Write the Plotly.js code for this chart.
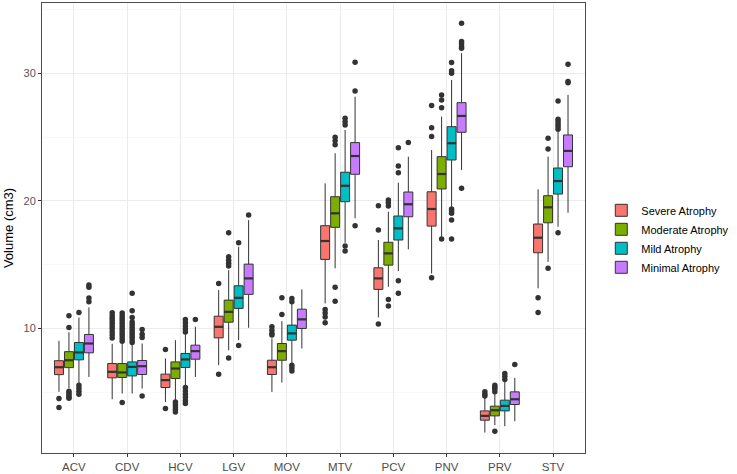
<!DOCTYPE html>
<html>
<head>
<meta charset="utf-8">
<script src="https://cdn.plot.ly/plotly-3.0.1.min.js"></script>
<style>html,body{margin:0;padding:0;background:#fff;}#chart{width:737px;height:474px;}</style>
</head>
<body>
<div id="chart"></div>
<script>
const categories = ['ACV','CDV','HCV','LGV','MOV','MTV','PCV','PNV','PRV','STV'];
const groups = ['Severe Atrophy','Moderate Atrophy','Mild Atrophy','Minimal Atrophy'];
const colors = ['#F8766D','#7CAE00','#00BFC4','#C77CFF'];

// Severe Atrophy
const severeQ1     = [6.38, 6.13, 5.37, 9.26, 6.39, 15.41, 13.06, 18.02, 2.81, 15.93];
const severeMedian = [6.96, 6.60, 5.95, 10.13, 6.96, 16.85, 13.92, 19.36, 3.15, 17.11];
const severeQ3     = [7.47, 7.25, 6.42, 10.96, 7.51, 18.05, 14.75, 20.71, 3.54, 18.18];
const severeLow    = [5.03, 4.45, 4.24, 7.12, 5.03, 11.96, 10.86, 14.30, 1.84, 13.14];
const severeHigh   = [9.03, 8.80, 7.65, 13.00, 9.22, 21.37, 16.93, 23.98, 4.55, 20.90];
const severeOut = [
  [4.51, 3.80],
  [9.25, 9.50, 9.75, 10.0, 10.2, 10.4, 10.6, 10.8, 11.0, 11.22],
  [8.35, 3.73],
  [13.53, 6.42],
  [10.13, 9.85, 9.60, 9.48],
  [11.49, 11.2, 10.9, 10.44],
  [19.62, 17.71, 10.34],
  [27.46, 25.73, 25.03, 13.97],
  [4.70, 4.85, 5.03],
  [12.40, 11.25]
];

// Moderate Atrophy
const moderateQ1     = [6.93, 6.16, 6.08, 10.49, 7.51, 17.92, 14.96, 20.93, 3.15, 18.28];
const moderateMedian = [7.51, 6.55, 6.86, 11.30, 8.22, 19.02, 15.88, 22.10, 3.59, 19.49];
const moderateQ3     = [8.18, 7.25, 7.38, 12.22, 8.82, 20.32, 16.75, 23.46, 3.91, 20.40];
const moderateLow    = [5.32, 4.90, 4.38, 8.30, 5.76, 14.71, 13.26, 17.18, 2.42, 15.22];
const moderateHigh   = [9.70, 8.80, 9.08, 14.57, 10.57, 23.73, 19.15, 26.60, 4.90, 23.46];
const moderateOut = [
  [10.99, 10.08, 5.08, 4.93, 4.77, 4.60, 4.53],
  [4.20, 9.0, 9.2, 9.4, 9.6, 9.8, 10.0, 10.2, 10.4, 10.6, 10.8, 11.0, 11.2],
  [4.24, 4.05, 3.85, 3.65, 3.46],
  [17.50, 15.62, 15.35, 15.10, 14.89, 7.69],
  [12.40, 11.10],
  [24.98, 24.70, 24.40, 13.22, 12.14],
  [20.06, 19.85, 19.60, 12.27, 11.75],
  [28.30, 27.90, 27.30, 17.00],
  [5.55, 5.40, 5.25, 5.03, 1.95],
  [24.90, 24.06, 14.71]
];

// Mild Atrophy
const mildQ1     = [7.54, 6.28, 6.94, 11.57, 9.08, 19.93, 16.93, 23.20, 3.54, 20.53];
const mildMedian = [8.12, 6.99, 7.57, 12.40, 9.61, 21.18, 17.84, 24.51, 3.93, 21.55];
const mildQ3     = [8.90, 7.38, 8.04, 13.34, 10.26, 22.24, 18.81, 25.81, 4.38, 22.57];
const mildLow    = [5.69, 4.90, 5.47, 9.08, 7.25, 16.71, 14.49, 19.54, 2.34, 17.97];
const mildHigh   = [10.86, 8.70, 9.61, 16.40, 11.96, 25.55, 21.42, 29.47, 5.95, 25.40];
const mildOut = [
  [11.25, 5.55, 5.32, 5.08, 4.85],
  [12.75, 11.38, 10.86, 10.5, 10.3, 10.1, 9.9, 9.7, 9.5, 9.3, 9.1, 8.9],
  [10.70, 10.45, 10.20, 9.95, 9.73, 5.37, 5.10, 4.85, 4.60, 4.35, 4.12],
  [16.71, 8.67],
  [12.35, 12.09, 7.12, 6.90, 6.67],
  [26.47, 26.20, 25.95, 16.45, 16.06],
  [24.16, 22.73, 22.20, 13.73, 12.75],
  [30.83, 30.20, 30.00, 19.36, 19.20, 19.02, 18.49, 17.00],
  [6.47, 6.25, 6.00],
  [27.83, 26.40, 26.20, 26.00, 25.80, 25.60, 17.50]
];

// Minimal Atrophy
const minimalQ1     = [8.09, 6.39, 7.59, 12.67, 10.00, 22.08, 18.75, 25.37, 4.04, 22.67];
const minimalMedian = [8.82, 7.04, 8.22, 13.92, 10.71, 23.51, 19.73, 26.65, 4.45, 23.91];
const minimalQ3     = [9.53, 7.49, 8.69, 15.04, 11.51, 24.56, 20.69, 27.69, 5.03, 25.16];
const minimalLow    = [6.20, 5.29, 6.20, 10.05, 8.43, 18.63, 16.20, 22.42, 2.73, 19.07];
const minimalHigh   = [11.65, 8.82, 10.13, 18.49, 13.06, 28.16, 23.46, 31.57, 6.13, 28.30];
const minimalOut = [
  [13.40, 13.22, 12.38, 12.09],
  [9.92, 9.55, 9.29, 4.71],
  [10.71],
  [18.88],
  [],
  [30.86, 28.61, 18.05],
  [24.56],
  [33.92, 32.48, 32.30, 32.10, 31.96, 20.98],
  [7.18],
  [30.70, 29.34, 29.26]
];

const stats = [
  {q1: severeQ1, med: severeMedian, q3: severeQ3, lo: severeLow, hi: severeHigh, out: severeOut},
  {q1: moderateQ1, med: moderateMedian, q3: moderateQ3, lo: moderateLow, hi: moderateHigh, out: moderateOut},
  {q1: mildQ1, med: mildMedian, q3: mildQ3, lo: mildLow, hi: mildHigh, out: mildOut},
  {q1: minimalQ1, med: minimalMedian, q3: minimalQ3, lo: minimalLow, hi: minimalHigh, out: minimalOut}
];

const dodge = 0.75 / groups.length;
const boxW = dodge * 0.9;
const dark = '#333333';

const boxTraces = [], medTraces = [], outTraces = [];
stats.forEach((s, j) => {
  const off = (j - (groups.length - 1) / 2) * dodge;
  const xs = categories.map((c, i) => i + 1 + off);
  boxTraces.push({
    type: 'box', name: groups[j], orientation: 'v',
    x: xs, q1: s.q1, median: s.med, q3: s.q3, lowerfence: s.lo, upperfence: s.hi,
    width: boxW, whiskerwidth: 0, boxpoints: false,
    fillcolor: colors[j], line: {color: dark, width: 1},
    hoverinfo: 'skip'
  });
  const mx = [], my = [];
  xs.forEach((x, i) => { mx.push(x - boxW / 2, x + boxW / 2, null); my.push(s.med[i], s.med[i], null); });
  medTraces.push({type: 'scatter', mode: 'lines', x: mx, y: my, line: {color: dark, width: 2.2},
    showlegend: false, hoverinfo: 'skip'});
  const ox = [], oy = [];
  s.out.forEach((arr, i) => arr.forEach(v => { ox.push(xs[i]); oy.push(v); }));
  outTraces.push({type: 'scatter', mode: 'markers', x: ox, y: oy,
    marker: {color: dark, size: 5.5, line: {width: 0}}, showlegend: false, hoverinfo: 'skip'});
});

const layout = {
  width: 737, height: 474,
  margin: {l: 42, r: 145, t: 3, b: 21},
  paper_bgcolor: '#ffffff', plot_bgcolor: '#ffffff',
  font: {family: '"Liberation Sans", Arial, sans-serif', color: '#4d4d4d', size: 11},
  showlegend: true,
  boxmode: 'overlay',
  xaxis: {
    range: [0.4, categories.length + 0.6],
    tickmode: 'array', tickvals: categories.map((c, i) => i + 1), ticktext: categories,
    showgrid: true, gridcolor: '#ebebeb', gridwidth: 1,
    zeroline: false, showline: true, mirror: true, linecolor: '#4d4d4d', linewidth: 1,
    ticks: 'outside', ticklen: 3, tickcolor: '#333333', tickwidth: 1,
    tickfont: {size: 11.5, color: '#4d4d4d'}
  },
  yaxis: {
    range: [0.24, 35.5],
    tickmode: 'array', tickvals: [10, 20, 30],
    showgrid: true, gridcolor: '#ebebeb', gridwidth: 1,
    minor: {tickmode: 'array', tickvals: [5, 15, 25, 35], showgrid: true, gridcolor: '#f3f3f3', gridwidth: 0.6},
    zeroline: false, showline: true, mirror: true, linecolor: '#4d4d4d', linewidth: 1,
    ticks: 'outside', ticklen: 3, tickcolor: '#333333', tickwidth: 1,
    tickfont: {size: 11, color: '#555555'},
    title: {text: 'Volume (cm3)', font: {size: 13, color: '#000000'}, standoff: 6}
  },
  legend: {
    x: 1.03, xanchor: 'left', y: 0.476, yanchor: 'middle',
    font: {size: 11, color: '#000000'}, bgcolor: 'rgba(0,0,0,0)', borderwidth: 0,
    tracegroupgap: 0
  }
};

Plotly.newPlot('chart', [...boxTraces, ...medTraces, ...outTraces], layout, {displayModeBar: false, staticPlot: true});
</script>
</body>
</html>
